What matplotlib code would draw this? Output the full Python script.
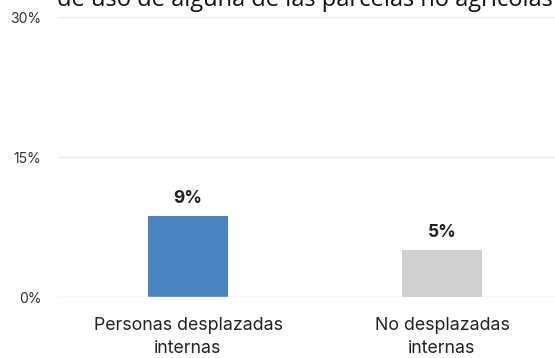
import numpy as np
import matplotlib.pyplot as plt

categorias = ["Personas desplazadas\ninternas", "No desplazadas\ninternas"]
valores = [8.7, 5.0]
etiquetas = ["9%", "5%"]
colores = ["#4a85bf", "#d0d0d0"]
yticks = [0, 15, 30]
titulo = "de uso de alguna de las parcelas no agrícolas"

fig = plt.figure(figsize=(5.55, 3.58), dpi=100)
ax = fig.add_axes([0.1045, 0.170, 0.8955, 0.7825])

x = np.arange(len(categorias))
ax.bar(x, valores, width=0.315, color=colores, zorder=2)
for xi, v, t in zip(x, valores, etiquetas):
    ax.text(xi, v + 1.0, t, ha='center', va='bottom', fontsize=12.5,
            fontweight='bold', family='Inter', color='#222222')

ax.set_xlim(-0.512, 1.445)
ax.set_ylim(0, 30)
ax.set_yticks(yticks)
ax.set_yticklabels([f"{t}%" for t in yticks], family='Inter', fontsize=10, color='#333333')
ax.set_xticks(x)
ax.set_xticklabels(categorias, family='Inter', fontsize=12.8, color='#222222', linespacing=1.5)
ax.tick_params(axis='y', length=0, pad=12)
ax.tick_params(axis='x', length=0, pad=14)
for t in yticks[1:]:
    ax.axhline(t, color='#ebebeb', lw=1, zorder=1)
ax.axhline(0, color='#dcdcdc', lw=1, zorder=3)
for s in ax.spines.values():
    s.set_visible(False)

fig.text(0.103, 0.982, titulo, ha='left', va='baseline', fontsize=17,
         family='Open Sans', color='#111111')

plt.savefig('out.png', dpi=100)
plt.close()
